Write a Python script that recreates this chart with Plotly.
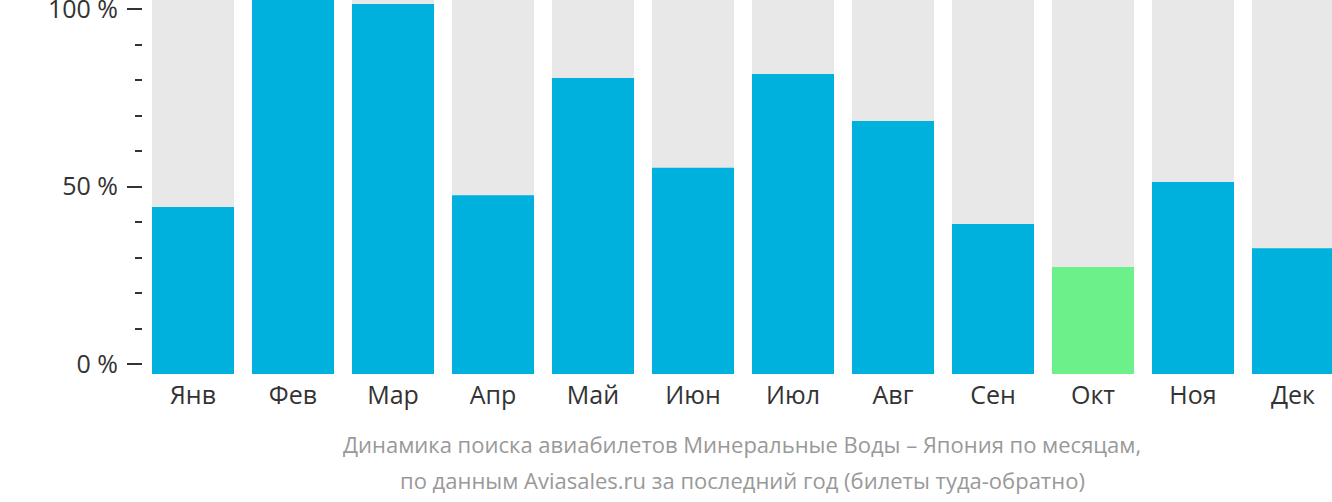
import plotly.graph_objects as go

months = ["Янв", "Фев", "Мар", "Апр", "Май", "Июн", "Июл", "Авг", "Сен", "Окт", "Ноя", "Дек"]
values = [44.3, 102.6, 101.4, 47.6, 80.6, 55.3, 81.7, 68.5, 39.5, 27.4, 51.3, 32.7]
highlight = "Окт"
y_tickvals = [0, 50, 100]
y_ticktext = ["0 %", "50 %", "100 %"]
title_lines = [
    "Динамика поиска авиабилетов Минеральные Воды – Япония по месяцам,",
    "по данным Aviasales.ru за последний год (билеты туда-обратно)",
]

BASE = -2.73
TOP = 102.55
BLUE = "#00B1DD"
GREEN = "#6CF089"
GRAY = "#E8E8E8"

colors = [GREEN if m == highlight else BLUE for m in months]

fig = go.Figure()
fig.add_trace(go.Bar(
    x=months, y=[TOP - BASE + 5] * len(months), base=BASE,
    marker=dict(color=GRAY, line=dict(width=0)), hoverinfo="skip", showlegend=False,
))
fig.add_trace(go.Bar(
    x=months, y=[v - BASE for v in values], base=BASE,
    marker=dict(color=colors, line=dict(width=0)), showlegend=False,
))

fig.update_layout(
    width=1332, height=502,
    margin=dict(l=143, r=0, t=0, b=128),
    barmode="overlay", bargap=0.18,
    plot_bgcolor="white", paper_bgcolor="white",
    font=dict(family="Open Sans", color="#333333"),
    xaxis=dict(
        range=[-0.5, 11.39], showgrid=False, showline=False, zeroline=False,
        ticks="", tickfont=dict(size=25, color="#333333"), fixedrange=True,
        ticklabelstandoff=4, automargin=False,
    ),
    yaxis=dict(
        range=[BASE, TOP], showgrid=False, showline=False, zeroline=False,
        tickvals=y_tickvals, ticktext=y_ticktext,
        ticks="outside", ticklen=15, tickwidth=2, tickcolor="#333333",
        tickfont=dict(size=25, color="#333333"),
        ticklabelstandoff=4, ticklabeloverflow="allow", automargin=False,
        minor=dict(ticks="outside", ticklen=7, tickwidth=2, tickcolor="#333333", dtick=10, tick0=0, showgrid=False),
    ),
)
plot_h = 502 - 128
for i, line in enumerate(title_lines):
    ypix = 444 + 36 * i
    fig.add_annotation(
        text=line, x=(742 - 143) / (1332 - 143), xref="paper",
        y=(plot_h - ypix) / plot_h, yref="paper", yanchor="middle", xanchor="center",
        showarrow=False, font=dict(size=22, color="#999999"),
    )

fig.write_html("out.html")
